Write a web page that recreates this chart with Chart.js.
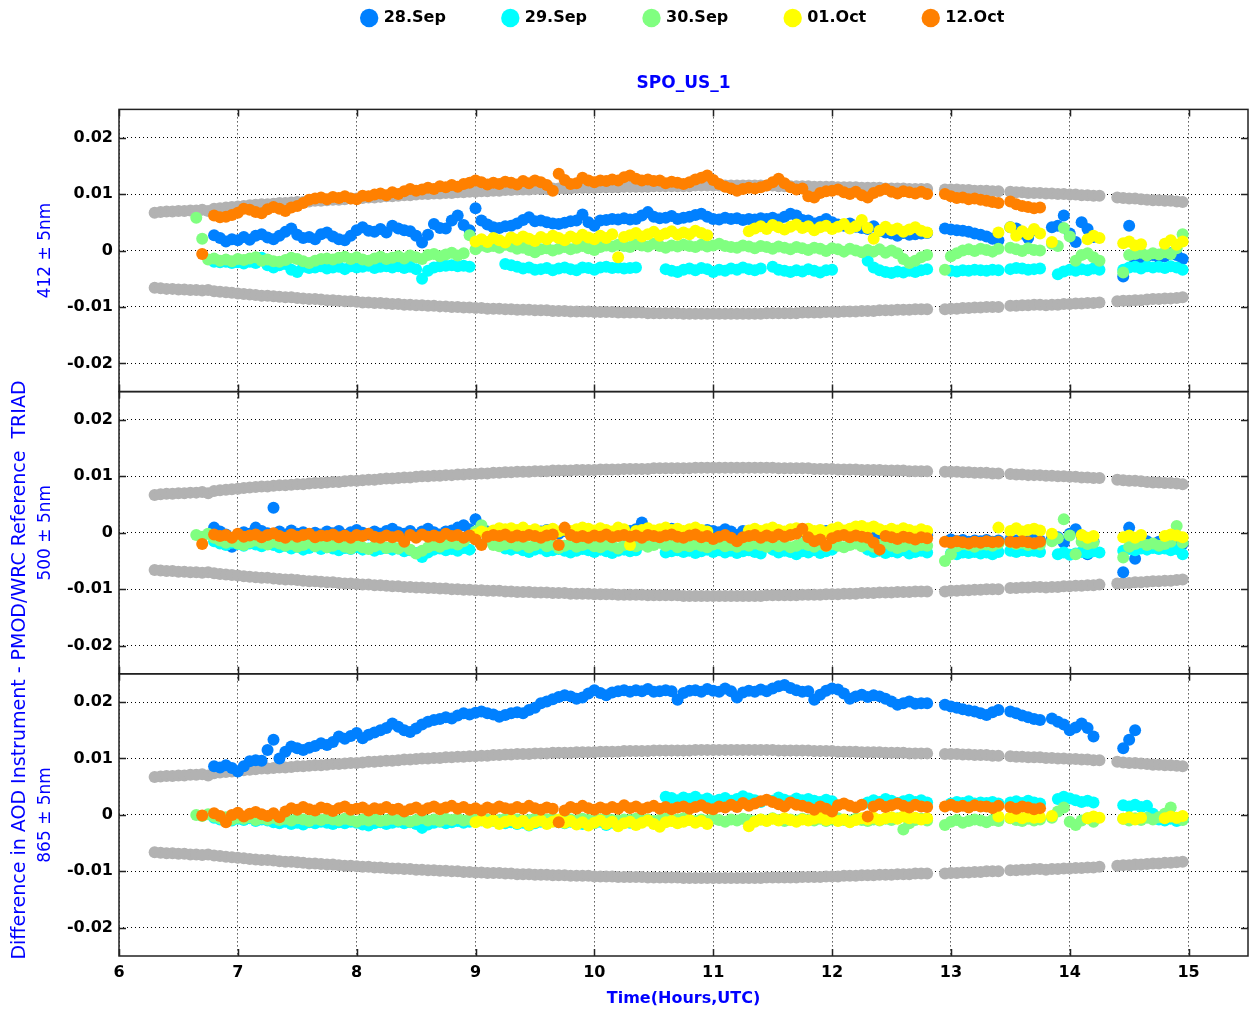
<!DOCTYPE html>
<html lang="en">
<head>
<meta charset="UTF-8" />
<title>SPO_US_1</title>
<script src="https://cdn.jsdelivr.net/npm/chart.js@4"></script>
<style>
  html, body { margin: 0; padding: 0; background: #fff; }
  canvas { display: block; }
</style>
</head>
<body>
<canvas id="aodChart" width="1249" height="1016"></canvas>
<script>
// gaps in the record are null
const _ = null;

// time axis of every series (hours UTC), one row = half an hour
const hours = [
  6.30, 6.35, 6.40, 6.45, 6.50, 6.55, 6.60, 6.65, 6.70, 6.75,
  6.80, 6.85, 6.90, 6.95, 7.00, 7.05, 7.10, 7.15, 7.20, 7.25,
  7.30, 7.35, 7.40, 7.45, 7.50, 7.55, 7.60, 7.65, 7.70, 7.75,
  7.80, 7.85, 7.90, 7.95, 8.00, 8.05, 8.10, 8.15, 8.20, 8.25,
  8.30, 8.35, 8.40, 8.45, 8.50, 8.55, 8.60, 8.65, 8.70, 8.75,
  8.80, 8.85, 8.90, 8.95, 9.00, 9.05, 9.10, 9.15, 9.20, 9.25,
  9.30, 9.35, 9.40, 9.45, 9.50, 9.55, 9.60, 9.65, 9.70, 9.75,
  9.80, 9.85, 9.90, 9.95, 10.00, 10.05, 10.10, 10.15, 10.20, 10.25,
  10.30, 10.35, 10.40, 10.45, 10.50, 10.55, 10.60, 10.65, 10.70, 10.75,
  10.80, 10.85, 10.90, 10.95, 11.00, 11.05, 11.10, 11.15, 11.20, 11.25,
  11.30, 11.35, 11.40, 11.45, 11.50, 11.55, 11.60, 11.65, 11.70, 11.75,
  11.80, 11.85, 11.90, 11.95, 12.00, 12.05, 12.10, 12.15, 12.20, 12.25,
  12.30, 12.35, 12.40, 12.45, 12.50, 12.55, 12.60, 12.65, 12.70, 12.75,
  12.80, 12.85, 12.90, 12.95, 13.00, 13.05, 13.10, 13.15, 13.20, 13.25,
  13.30, 13.35, 13.40, 13.45, 13.50, 13.55, 13.60, 13.65, 13.70, 13.75,
  13.80, 13.85, 13.90, 13.95, 14.00, 14.05, 14.10, 14.15, 14.20, 14.25,
  14.30, 14.35, 14.40, 14.45, 14.50, 14.55, 14.60, 14.65, 14.70, 14.75,
  14.80, 14.85, 14.90, 14.95, 15.00
];

const xTicks = [6, 7, 8, 9, 10, 11, 12, 13, 14, 15];
const yTicks = [-0.02, -0.01, 0, 0.01, 0.02];

const days = ['28.Sep', '29.Sep', '30.Sep', '01.Oct', '12.Oct'];
const panelTitles = ['412 \u00b1 5nm', '500 \u00b1 5nm', '865 \u00b1 5nm'];

// all AOD differences below are in units of 0.001
const limitUpper = [
  6.7, 6.8, 6.9, 6.9, 7.0, 7.0, 7.1, 7.1, 7.2, 7.0,
  7.4, 7.5, 7.6, 7.7, 7.8, 7.9, 8.0, 8.1, 8.2, 8.2,
  8.3, 8.4, 8.4, 8.5, 8.6, 8.6, 8.7, 8.8, 8.8, 8.9,
  9.0, 9.0, 9.1, 9.2, 9.2, 9.3, 9.4, 9.4, 9.5, 9.6,
  9.6, 9.7, 9.8, 9.8, 9.9, 10.0, 10.0, 10.1, 10.1, 10.2,
  10.2, 10.3, 10.3, 10.4, 10.4, 10.5, 10.5, 10.6, 10.6, 10.7,
  10.7, 10.8, 10.8, 10.8, 10.9, 10.9, 10.9, 11.0, 11.0, 11.0,
  11.0, 11.1, 11.1, 11.1, 11.1, 11.2, 11.2, 11.2, 11.2, 11.3,
  11.3, 11.3, 11.3, 11.3, 11.4, 11.4, 11.4, 11.4, 11.4, 11.4,
  11.4, 11.5, 11.5, 11.5, 11.5, 11.5, 11.5, 11.5, 11.5, 11.5,
  11.5, 11.5, 11.5, 11.5, 11.5, 11.4, 11.4, 11.4, 11.4, 11.4,
  11.4, 11.3, 11.3, 11.3, 11.3, 11.2, 11.2, 11.2, 11.2, 11.1,
  11.1, 11.1, 11.1, 11.0, 11.0, 11.0, 11.0, 10.9, 10.9, 10.9,
  10.9, _, _, 10.8, 10.8, 10.8, 10.7, 10.7, 10.6, 10.6,
  10.6, 10.5, 10.5, _, 10.4, 10.3, 10.3, 10.2, 10.2, 10.2,
  10.1, 10.1, 10.0, 10.0, 9.9, 9.9, 9.8, 9.8, 9.7, 9.7,
  _, _, 9.4, 9.3, 9.2, 9.2, 9.1, 9.0, 8.9, 8.9,
  8.8, 8.8, 8.7, 8.6, _
];

const limitLower = [
  -6.6, -6.7, -6.8, -6.8, -6.9, -6.9, -7.0, -7.0, -7.1, -7.0,
  -7.2, -7.3, -7.4, -7.5, -7.6, -7.7, -7.8, -7.9, -8.0, -8.0,
  -8.1, -8.2, -8.3, -8.3, -8.4, -8.5, -8.6, -8.6, -8.7, -8.8,
  -8.8, -8.9, -9.0, -9.0, -9.1, -9.2, -9.2, -9.3, -9.3, -9.4,
  -9.5, -9.5, -9.6, -9.6, -9.7, -9.7, -9.8, -9.8, -9.9, -9.9,
  -10.0, -10.0, -10.1, -10.1, -10.2, -10.2, -10.3, -10.3, -10.3, -10.4,
  -10.4, -10.5, -10.5, -10.5, -10.6, -10.6, -10.6, -10.7, -10.7, -10.7,
  -10.8, -10.8, -10.8, -10.8, -10.9, -10.9, -10.9, -10.9, -11.0, -11.0,
  -11.0, -11.0, -11.0, -11.1, -11.1, -11.1, -11.1, -11.1, -11.1, -11.2,
  -11.2, -11.2, -11.2, -11.2, -11.2, -11.2, -11.2, -11.2, -11.2, -11.2,
  -11.2, -11.2, -11.2, -11.1, -11.1, -11.1, -11.1, -11.1, -11.1, -11.0,
  -11.0, -11.0, -11.0, -10.9, -10.9, -10.9, -10.8, -10.8, -10.8, -10.7,
  -10.7, -10.7, -10.6, -10.6, -10.6, -10.5, -10.5, -10.5, -10.4, -10.4,
  -10.4, _, _, -10.4, -10.3, -10.3, -10.2, -10.2, -10.1, -10.1,
  -10.0, -10.0, -10.0, _, -9.8, -9.8, -9.7, -9.7, -9.6, -9.6,
  -9.7, -9.6, -9.6, -9.5, -9.5, -9.4, -9.4, -9.3, -9.3, -9.2,
  _, _, -9.0, -8.9, -8.9, -8.8, -8.8, -8.7, -8.6, -8.6,
  -8.5, -8.5, -8.4, -8.3, _
];

// ---- 412 nm ----
const sep28_412 = [
  _, _, _, _, _, _, _, _, _, _,
  2.7, 2.2, 1.6, 2.0, 1.8, 2.4, 1.9, 2.6, 2.9, 2.3,
  2.0, 2.6, 3.3, 3.9, 2.8, 2.2, 2.4, 2.0, 2.9, 3.2,
  2.5, 2.0, 1.8, 2.6, 3.6, 4.1, 3.5, 3.3, 3.8, 3.2,
  4.4, 3.9, 3.6, 3.4, 2.6, 1.4, 2.8, 4.7, 4.0, 3.9,
  5.3, 6.2, 4.5, 3.6, 7.5, 5.3, 4.6, 4.1, 4.0, 4.3,
  4.4, 4.8, 5.4, 5.9, 5.2, 5.3, 5.0, 4.8, 4.7, 4.9,
  5.2, 5.3, 6.4, 5.0, 4.4, 5.3, 5.4, 5.6, 5.5, 5.7,
  5.5, 5.6, 6.2, 6.8, 6.0, 5.7, 5.8, 6.1, 5.6, 5.8,
  6.0, 6.3, 6.5, 6.0, 5.6, 5.5, 5.8, 5.6, 5.7, 5.4,
  5.6, 5.5, 5.7, 5.6, 5.8, 5.5, 6.0, 6.5, 6.2, 5.4,
  5.3, 4.8, 5.1, 5.6, 5.0, 4.6, 4.4, 4.8, 4.2, 4.0,
  3.8, 4.3, 3.5, 3.2, 3.0, 2.6, 3.1, 2.8, 2.9, 3.0,
  3.1, _, _, 3.9, 3.7, 3.6, 3.5, 3.3, 3.0, 2.8,
  2.5, 2.1, 1.8, _, 4.1, 3.9, 3.0, 2.2, 3.6, _,
  _, 4.1, 4.4, 6.2, 3.0, 1.5, 5.0, 3.8, 2.4, _,
  _, _, _, -4.6, 4.4, -1.8, -1.5, -1.0, -0.8, -1.2,
  -1.0, -0.5, -0.8, -1.5, _
];
const sep29_412 = [
  _, _, _, _, _, _, _, _, _, _,
  -2.0, -2.1, -2.0, -2.2, -2.1, -2.3, -2.0, -2.2, -1.3, -2.6,
  -3.0, -2.6, -2.4, -3.4, -3.8, -2.9, -3.1, -3.0, -2.8, -3.2,
  -3.0, -2.9, -3.3, -2.8, -3.0, -2.9, -2.7, -3.1, -2.9, -2.8,
  -3.0, -2.8, -3.1, -2.9, -3.3, -5.0, -3.6, -3.0, -2.8, -2.7,
  -2.6, -2.8, -2.7, -2.9, _, _, _, _, _, -2.4,
  -2.6, -2.9, -3.2, -3.0, -3.4, -3.3, -3.1, -3.5, -3.2, -3.0,
  -3.3, -3.5, -3.0, -3.1, -3.4, -3.0, -2.9, -3.1, -3.0, -3.2,
  -3.1, -3.0, _, _, _, _, -3.3, -3.6, -3.8, -3.4,
  -3.2, -3.5, -3.1, -3.3, -3.8, -3.4, -3.6, -3.2, -3.4, -3.0,
  -3.3, -3.5, -3.2, _, -2.9, -3.4, -3.6, -3.8, -3.5, -3.7,
  -3.3, -3.6, -3.9, -3.5, -3.4, _, _, _, _, _,
  -1.8, -3.0, -3.5, -3.8, -4.0, -3.7, -3.9, -3.6, -3.8, -3.5,
  -3.3, _, _, _, -3.6, -3.7, -3.5, -3.6, -3.4, -3.5,
  -3.6, -3.4, -3.5, _, -3.3, -3.1, -3.2, -3.4, -3.3, -3.2,
  _, _, -4.2, -3.7, -3.4, -3.6, -3.3, -3.5, -3.2, -3.4,
  _, _, _, -3.4, -3.0, -2.9, -3.2, -2.8, -3.0, -2.9,
  -3.1, -2.8, -3.0, -3.4, _
];
const sep30_412 = [
  _, _, _, _, _, _, _, 5.8, 2.1, -1.6,
  -1.4, -1.8, -1.6, -1.9, -1.5, -1.7, -1.4, -1.2, -1.8, -1.6,
  -1.9, -2.0, -1.7, -1.3, -1.5, -1.9, -2.2, -1.8, -1.5, -1.4,
  -1.6, -1.3, -1.1, -1.5, -1.2, -1.6, -1.8, -1.4, -1.1, -1.5,
  -1.3, -1.0, -1.4, -0.9, -1.2, -1.5, -0.8, -0.6, -1.0, -0.7,
  -0.4, -0.9, -0.5, 2.7, 0.2, 0.9, 0.6, 0.8, 0.5, 1.0,
  0.7, 0.3, 0.5, 0.1, -0.3, 0.2, 0.4, 0.0, 0.3, 0.6,
  0.2, 0.5, 0.8, 0.4, 0.1, 0.6, 0.9, 0.7, 1.0, 0.8,
  0.6, 1.1, 0.9, 0.7, 1.2, 0.8, 0.5, 0.9, 0.7, 1.0,
  0.8, 0.6, 1.0, 0.7, 0.9, 1.2, 0.8, 0.6, 0.5, 0.9,
  0.7, 0.4, 0.8, 0.6, 0.3, 0.7, 0.5, 0.2, 0.6, 0.4,
  0.1, 0.5, 0.3, -0.1, 0.4, 0.2, -0.2, 0.3, 0.0, -0.3,
  0.1, -0.2, 0.2, -0.4, 0.0, -0.5, -1.5, -2.2, -1.8, -1.2,
  -0.8, _, _, -3.4, -1.0, -0.5, 0.0, 0.2, -0.1, 0.3,
  0.1, -0.2, 0.3, _, 0.5, 0.2, -0.1, 0.4, 0.1, 0.0,
  _, 1.2, 0.8, 4.0, 2.5, -1.8, -0.8, -0.5, -1.2, -1.8,
  _, _, _, -3.9, -0.8, -0.6, -0.4, -0.9, -0.5, -0.7,
  -0.3, -0.6, 0.4, 2.9, _
];
const oct01_412 = [
  _, _, _, _, _, _, _, _, _, _,
  _, _, _, _, _, _, _, _, _, _,
  _, _, _, _, _, _, _, _, _, _,
  _, _, _, _, _, _, _, _, _, _,
  _, _, _, _, _, _, _, _, _, _,
  _, _, _, _, 1.6, 2.0, 1.5, 2.2, 1.8, 1.4,
  2.3, 1.9, 2.5, 2.1, 1.7, 2.4, 2.0, 2.6, 2.2, 1.8,
  2.5, 2.1, 2.8, 2.3, 2.0, 2.6, 2.2, 2.9, -1.2, 2.4,
  2.7, 3.1, 2.5, 2.9, 3.3, 2.6, 3.0, 3.4, 2.8, 3.2,
  2.9, 3.5, 3.1, 2.7, _, _, _, _, _, _,
  3.4, 3.9, 4.3, 3.8, 4.5, 4.1, 3.7, 4.2, 4.6, 4.0,
  4.3, 3.6, 4.1, 4.4, 3.8, 4.2, 4.7, 3.9, 4.3, 5.4,
  4.0, 2.1, 3.5, 4.2, 3.6, 3.9, 3.3, 3.7, 4.1, 3.5,
  3.2, _, _, _, _, _, _, _, _, _,
  _, _, 3.2, _, 4.1, 2.6, 3.4, 2.9, 3.8, 3.0,
  _, 1.5, _, _, _, _, _, 2.0, 2.6, 2.2,
  _, _, _, 1.3, 1.6, 0.9, 1.1, _, _, _,
  1.2, 1.8, 1.0, 1.6, _
];
const oct12_412 = [
  _, _, _, _, _, _, _, _, -0.6, _,
  6.2, 5.9, 6.0, 6.3, 6.7, 7.4, 7.2, 6.8, 6.6, 7.3,
  7.7, 7.4, 7.0, 7.6, 7.9, 8.4, 9.0, 9.2, 9.4, 9.1,
  9.5, 9.3, 9.6, 9.2, 9.1, 9.7, 9.6, 9.9, 10.1, 9.8,
  10.3, 10.0, 10.5, 10.9, 10.6, 10.8, 11.1, 10.9, 11.4, 11.2,
  11.6, 11.3, 11.8, 12.0, 12.4, 12.1, 11.7, 12.0, 11.8, 12.2,
  12.0, 11.7, 12.3, 11.9, 12.4, 12.1, 11.6, 10.6, 13.6, 12.5,
  11.8, 11.9, 12.9, 12.4, 12.1, 12.4, 12.3, 12.6, 12.4, 13.0,
  13.3, 12.7, 12.4, 12.6, 12.3, 12.4, 11.9, 12.2, 12.0, 11.8,
  12.1, 12.6, 12.9, 13.3, 12.5, 11.8, 11.3, 11.0, 10.6, 10.9,
  11.1, 11.0, 11.2, 11.5, 12.1, 12.7, 11.9, 11.2, 10.8, 11.0,
  9.6, 9.4, 10.2, 10.5, 10.6, 10.8, 10.3, 10.0, 10.4, 9.8,
  9.4, 10.2, 10.6, 10.9, 10.4, 10.1, 10.5, 10.3, 10.1, 10.4,
  10.0, _, _, 10.0, 9.6, 9.3, 9.4, 9.1, 9.2, 9.0,
  8.8, 8.6, 8.4, _, 8.7, 8.2, 7.9, 7.7, 7.5, 7.6,
  _, _, _, _, _, _, _, _, _, _,
  _, _, _, _, _, _, _, _, _, _,
  _, _, _, _, _
];

// ---- 500 nm ----
const sep28_500 = [
  _, _, _, _, _, _, _, _, _, _,
  0.9, 0.2, -0.3, -2.5, -0.4, 0.1, -0.2, 0.9, 0.3, -0.1,
  4.4, 0.2, -0.3, 0.4, -0.2, 0.1, -0.5, 0.0, -0.3, 0.2,
  -0.1, 0.3, -0.4, 0.1, 0.5, 0.0, -0.3, 0.2, -0.2, 0.3,
  0.7, 0.1, -0.2, 0.3, -0.4, 0.2, 0.7, 0.1, -0.3, 0.2,
  0.4, 0.9, 1.3, 0.6, 2.4, 1.0, 0.2, -0.1, 0.3, 0.0,
  0.3, -0.2, 0.4, 0.1, -0.3, 0.2, 0.5, 0.0, -0.2, 0.3,
  0.1, 0.4, -0.1, 0.3, 0.0, 0.5, 0.2, -0.2, 0.4, 0.1,
  0.3, 0.6, 1.8, 0.4, 0.1, 0.5, 0.2, 0.7, 0.3, 0.0,
  0.4, 0.6, 0.2, 0.5, 0.3, 0.1, 0.6, 0.2, -0.4, 0.3,
  0.2, 0.5, 0.1, 0.4, 0.6, 0.2, -0.1, 0.3, 0.0, 0.2,
  0.4, 0.1, -0.2, 0.3, 0.0, 0.2, -0.3, 0.1, -0.1, 0.0,
  -0.2, 0.1, -0.4, -0.1, 0.2, -0.3, -0.5, -0.2, -0.6, -0.4,
  -0.5, _, _, _, -1.2, -1.5, -1.3, -1.6, -1.4, -1.5,
  -1.3, -1.6, -1.4, _, -1.2, -1.4, -1.3, -1.5, -1.2, -1.4,
  _, -1.0, -0.8, -1.8, -0.2, 0.6, -0.5, -3.8, -1.5, _,
  _, _, _, -7.0, 0.9, -4.6, -1.8, -1.5, -2.0, -1.6,
  -1.9, -1.4, -1.7, -2.0, _
];
const sep29_500 = [
  _, _, _, _, _, _, _, _, _, _,
  -1.5, -1.9, -2.2, -1.8, -2.0, -2.3, -1.9, -2.1, -2.4, -2.0,
  -2.2, -2.6, -2.3, -2.8, -2.5, -3.0, -2.7, -2.4, -2.9, -2.6,
  -2.8, -3.1, -2.7, -2.9, -2.6, -3.0, -2.8, -3.2, -2.9, -2.7,
  -3.0, -2.8, -3.3, -3.1, -3.6, -4.3, -3.5, -3.0, -2.8, -3.1,
  -2.9, -3.2, -2.7, -3.0, _, _, _, _, _, -2.8,
  -3.0, -2.7, -3.1, -3.4, -3.0, -2.8, -3.3, -3.1, -2.9, -3.2,
  -3.5, -3.2, -2.9, -3.1, -3.4, -3.0, -3.3, -3.6, -3.2, -3.0,
  -3.3, -3.1, _, _, _, _, -3.5, -3.3, -3.1, -3.4,
  -3.2, -3.6, -3.3, -3.0, -3.4, -3.1, -3.5, -3.2, -3.6, -3.3,
  -3.1, -3.4, -3.7, _, -3.0, -3.5, -3.2, -3.4, -3.8, -3.3,
  -3.5, -3.1, -3.6, -3.3, -3.0, _, _, _, _, _,
  -3.0, -3.4, -3.2, -3.6, -3.3, -3.5, -3.1, -3.7, -3.4, -3.2,
  -3.5, _, _, _, -3.7, -3.8, -3.5, -3.6, -3.4, -3.7,
  -3.5, -3.8, -3.4, _, -3.2, -3.4, -3.1, -3.3, -3.2, -3.4,
  _, _, -3.8, -3.5, -3.9, -3.7, -3.4, -3.6, -3.3, -3.5,
  _, _, _, -3.2, -2.9, -3.1, -2.8, -3.0, -2.7, -2.9,
  -2.8, -3.1, -2.9, -3.8, _
];
const sep30_500 = [
  _, _, _, _, _, _, _, -0.4, -0.7, -0.2,
  -0.9, -1.4, -1.8, -1.5, -1.9, -2.2, -1.7, -1.4, -1.8, -2.1,
  -1.6, -1.9, -2.3, -2.0, -2.5, -2.2, -1.8, -2.4, -2.1, -2.6,
  -2.3, -2.0, -2.5, -2.8, -2.2, -2.6, -2.9, -2.4, -2.1, -2.7,
  -2.5, -2.8, -2.3, -3.0, -3.7, -3.2, -2.6, -2.2, -2.5, -2.0,
  -1.8, -2.1, -1.5, -0.8, 0.2, 1.3, -1.2, -2.2, -2.4, -2.1,
  -1.9, -2.3, -2.0, -2.6, -2.2, -1.8, -2.4, -2.1, -2.7, -2.3,
  -2.0, -2.5, -2.2, -1.9, -2.4, -2.6, -2.1, -2.3, -2.8, -2.2,
  -1.9, -2.4, -2.1, -2.5, -2.2, -1.8, -2.3, -2.0, -2.6, -2.2,
  -2.4, -2.0, -2.3, -2.6, -2.1, -1.9, -2.4, -2.2, -2.5, -2.1,
  -2.3, -1.9, -2.2, -2.5, -2.0, -2.4, -2.1, -2.6, -2.3, -1.9,
  -2.2, -2.5, -2.1, -2.4, -2.0, -2.3, -2.6, -2.2, -1.9, -2.4,
  -2.1, -2.5, -2.2, -1.8, -2.3, -2.7, -2.4, -2.0, -2.5, -2.2,
  -2.3, _, _, -5.0, -3.8, -2.4, -2.0, -2.2, -2.5, -2.1,
  -2.1, -2.3, -1.9, _, -1.7, -2.0, -1.8, -2.2, -1.9, -2.1,
  _, -1.5, -1.0, 2.4, -0.5, -3.8, -1.6, -2.0, -1.8, _,
  _, _, _, -4.4, -2.5, -2.0, -1.7, -2.2, -1.9, -2.3,
  -2.0, -1.6, 1.2, -1.8, _
];
const oct01_500 = [
  _, _, _, _, _, _, _, _, _, _,
  _, _, _, _, _, _, _, _, _, _,
  _, _, _, _, _, _, _, _, _, _,
  _, _, _, _, _, _, _, _, _, _,
  _, _, _, _, _, _, _, _, _, _,
  _, _, _, _, -0.3, 0.2, -0.1, 0.4, 0.8, 0.6,
  0.8, 0.5, 0.9, 0.3, 0.6, 0.1, 0.4, 0.7, 0.2, 0.5,
  0.3, 0.6, 0.9, 0.7, 0.4, 0.8, 0.5, 0.2, 0.9, 0.6,
  -2.2, 0.3, 0.5, 0.8, 0.4, 0.6, 0.9, 0.5, 0.7, 0.3,
  0.6, 0.9, 0.5, 0.2, _, _, _, _, _, _,
  0.4, 0.7, 0.3, 0.6, 0.9, 0.5, 0.2, 0.6, 0.8, 0.4,
  0.7, 0.3, 0.5, 0.1, 0.6, 0.9, 0.4, 0.7, 1.1, 1.2,
  0.8, 1.1, 0.6, 0.3, 0.7, 0.4, 0.8, 0.5, 0.2, 0.6,
  0.3, _, _, _, _, _, _, _, _, _,
  _, _, 0.9, _, 0.3, 0.8, 0.2, 0.5, 0.7, 0.4,
  _, -0.2, _, _, _, _, -0.4, -0.9, -0.6, _,
  _, _, _, -0.8, -0.5, -0.9, -0.4, _, _, _,
  -0.6, -0.3, -0.5, -0.8, _
];
const oct12_500 = [
  _, _, _, _, _, _, _, _, -2.0, _,
  -0.3, -0.6, -0.4, -0.9, -0.2, -0.7, -0.5, -0.3, -0.8, -0.4,
  -0.1, -0.6, -0.9, -0.3, -0.7, -0.4, -0.2, -0.8, -0.5, -0.6,
  -0.3, -0.8, -0.5, -0.9, -0.4, -0.6, -0.2, -0.7, -0.9, -0.5,
  -0.8, -0.6, -1.6, -0.4, -0.9, -0.3, -0.7, -0.5, -0.8, -0.2,
  -0.6, -0.4, -0.9, -0.5, -1.2, -2.2, -0.7, -0.4, -0.6, -0.3,
  -0.8, -0.5, -0.7, -0.4, -0.6, -0.9, -0.5, -0.3, -2.2, 0.9,
  -0.4, -0.8, -0.6, -0.9, -0.5, -0.7, -0.3, -0.8, -0.6, -0.4,
  -0.7, -0.5, -0.9, -0.4, -0.6, -0.8, -0.5, -0.3, -0.7, -0.9,
  -0.5, -0.3, -0.8, -0.6, -1.1, -0.7, -0.4, -0.9, -1.5, -0.8,
  -0.6, -0.4, -0.9, -0.5, -0.8, -0.3, -0.7, -0.4, -0.2, 0.7,
  -0.8, -1.5, -1.2, -2.3, -1.0, -0.6, -0.4, -0.8, -0.5, -0.7,
  -0.9, -1.8, -3.0, -0.6, -0.8, -1.1, -0.7, -0.9, -1.2, -0.8,
  -1.0, _, _, -1.6, -1.8, -1.5, -1.7, -1.9, -1.6, -1.8,
  -1.5, -1.7, -1.6, _, -1.6, -1.8, -1.5, -1.7, -1.9, -1.6,
  _, _, _, _, _, _, _, _, _, _,
  _, _, _, _, _, _, _, _, _, _,
  _, _, _, _, _
];

// ---- 865 nm ----
const sep28_865 = [
  _, _, _, _, _, _, _, _, _, _,
  8.6, 8.4, 8.8, 8.3, 7.7, 8.6, 9.5, 9.7, 9.6, 11.5,
  13.3, 10.0, 11.2, 12.1, 11.8, 11.5, 11.9, 12.2, 12.7, 12.4,
  12.9, 13.9, 13.5, 14.0, 14.5, 13.6, 14.2, 14.6, 15.0, 15.4,
  16.2, 15.6, 15.0, 14.7, 15.3, 16.0, 16.5, 16.8, 17.0, 17.3,
  17.1, 17.6, 18.0, 17.8, 18.1, 18.3, 18.0, 17.8, 17.4, 17.7,
  18.0, 18.2, 18.0, 18.6, 19.0, 19.8, 20.1, 20.5, 20.9, 21.2,
  21.0, 20.6, 20.8, 21.5, 22.1, 21.6, 21.2, 21.7, 21.9, 22.1,
  21.8, 22.1, 21.9, 22.3, 21.8, 21.9, 22.1, 21.9, 20.4, 21.6,
  22.0, 22.1, 21.8, 22.3, 22.0, 21.8, 22.4, 21.9, 20.8, 21.7,
  22.0, 21.8, 22.2, 21.9, 22.4, 22.8, 23.0, 22.5, 22.1, 21.8,
  21.9, 20.4, 21.3, 22.0, 22.4, 22.2, 21.5, 20.6, 21.0, 21.3,
  20.9, 21.2, 21.0, 20.6, 20.1, 19.5, 19.8, 20.1, 19.7, 19.8,
  19.8, _, _, 19.5, 19.2, 19.0, 18.7, 18.5, 18.3, 18.0,
  17.7, 18.2, 18.6, _, 18.3, 18.0, 17.6, 17.3, 17.0, 16.8,
  _, 17.1, 16.5, 16.0, 15.0, 15.5, 16.2, 15.4, 13.9, _,
  _, _, _, 11.8, 13.3, 15.0, _, _, _, _,
  _, _, _, _, _
];
const sep29_865 = [
  _, _, _, _, _, _, _, _, _, _,
  -0.5, -0.8, -0.6, -1.0, -0.7, -0.9, -0.6, -1.1, -0.8, -1.0,
  -1.3, -1.5, -1.2, -1.6, -1.4, -1.7, -1.3, -1.5, -1.2, -1.4,
  -1.6, -1.3, -1.5, -1.2, -1.4, -1.7, -1.9, -1.5, -1.3, -1.6,
  -1.4, -1.2, -1.5, -1.3, -1.6, -2.3, -1.7, -1.4, -1.2, -1.5,
  -1.3, -1.1, -1.4, -1.2, _, _, _, _, _, -1.5,
  -1.3, -1.6, -1.4, -1.9, -1.5, -1.2, -1.4, -1.1, -1.3, -1.5,
  -1.2, -1.4, -1.6, -1.3, -1.5, -1.2, -1.8, -1.4, -1.3, -1.1,
  -1.4, -1.2, _, _, _, _, 3.2, 3.0, 2.6, 3.1,
  2.8, 3.2, 2.6, 2.9, 2.4, 2.7, 3.0, 2.5, 2.8, 3.3,
  2.9, 2.6, 2.3, _, 2.5, 3.1, 2.7, 2.4, 2.9, 2.6,
  2.8, 2.5, 2.3, 2.7, 2.4, _, _, _, _, _,
  2.2, 2.6, 2.3, 2.8, 2.5, 2.1, 2.4, 2.7, 2.3, 2.6,
  2.2, _, _, _, 2.0, 2.3, 2.1, 2.4, 2.0, 2.2,
  2.1, 2.3, 2.0, _, 2.2, 2.4, 2.1, 2.5, 2.2, 2.0,
  _, _, 2.8, 3.2, 2.9, 2.6, 2.3, 2.5, 2.2, _,
  _, _, _, 1.7, 1.5, 1.8, 1.4, 1.6, 0.2, -0.8,
  -1.0, -0.7, -1.1, -0.8, _
];
const sep30_865 = [
  _, _, _, _, _, _, _, 0.0, -0.2, 0.1,
  -0.3, -0.6, -0.4, -0.8, -0.5, -0.7, -0.4, -0.9, -0.6, -0.8,
  -0.5, -0.9, -0.7, -1.0, -0.6, -0.8, -1.1, -0.7, -0.9, -0.6,
  -0.8, -1.0, -0.7, -0.9, -1.2, -0.8, -1.0, -0.7, -1.1, -0.9,
  -0.7, -1.0, -0.8, -1.2, -0.9, -0.6, -1.0, -0.8, -1.1, -0.7,
  -0.9, -0.6, -1.0, -0.8, -0.7, -1.0, -0.8, -1.1, -0.9, -0.7,
  -1.0, -0.8, -1.1, -0.9, -0.7, -1.0, -0.8, -0.6, -0.9, -1.1,
  -0.8, -1.0, -0.7, -0.9, -1.1, -0.8, -0.6, -0.9, -1.0, -0.8,
  -0.9, -0.7, -1.0, -0.8, -1.1, -0.9, -0.7, -1.0, -0.8, -0.6,
  -0.9, -1.1, -0.8, -1.0, -0.7, -0.9, -1.2, -0.8, -1.0, -0.7,
  -0.9, -1.1, -0.8, -1.0, -0.6, -0.9, -1.1, -0.8, -1.0, -0.7,
  -0.9, -1.0, -0.7, -1.1, -0.8, -0.6, -0.9, -1.0, -0.7, -0.9,
  -1.1, -0.8, -1.0, -0.7, -0.9, -0.6, -2.6, -1.5, -0.9, -0.7,
  -1.0, _, _, -1.8, -1.2, -0.9, -1.4, -1.1, -0.8, -1.0,
  -1.3, -0.9, -1.1, _, -0.6, -0.9, -1.1, -0.7, -1.0, -0.8,
  _, -0.5, 0.6, 1.3, -1.2, -1.8, -1.0, -0.6, -1.2, _,
  _, _, _, -0.7, -1.0, -0.6, -0.9, -0.5, -0.8, -0.4,
  0.2, 1.3, -0.6, -0.9, _
];
const oct01_865 = [
  _, _, _, _, _, _, _, _, _, _,
  _, _, _, _, _, _, _, _, _, _,
  _, _, _, _, _, _, _, _, _, _,
  _, _, _, _, _, _, _, _, _, _,
  _, _, _, _, _, _, _, _, _, _,
  _, _, _, _, -1.3, -0.9, -1.4, -1.0, -1.6, -1.2,
  -0.9, -1.5, -1.1, -1.8, -1.3, -1.0, -1.6, -1.2, -0.8, -1.4,
  -1.1, -1.7, -1.3, -1.9, -1.4, -1.0, -1.6, -1.2, -2.0, -1.5,
  -1.2, -1.8, -1.4, -1.0, -1.6, -2.1, -1.3, -1.1, -1.5, -1.2,
  -0.9, -1.4, -1.1, -1.6, _, _, _, _, _, _,
  -2.0, -1.2, -0.8, -1.1, -0.7, -1.0, -0.6, -0.9, -1.2, -0.8,
  -1.0, -0.7, -0.5, -0.9, -0.6, -1.1, -0.8, -1.3, -0.9, -0.6,
  -0.8, -0.5, -0.9, -0.6, -0.4, -0.7, -0.3, -0.6, -0.5, -0.8,
  -0.6, _, _, _, _, _, _, _, _, _,
  _, _, -0.3, _, -0.5, -0.2, -0.6, -0.3, -0.5, -0.4,
  _, -0.2, _, _, _, _, _, -0.6, -0.3, -0.5,
  _, _, _, -0.7, -0.4, -0.8, -0.5, _, _, _,
  -0.6, -0.3, -0.5, -0.2, _
];
const oct12_865 = [
  _, _, _, _, _, _, _, _, -0.1, _,
  0.3, -0.2, -1.3, 0.0, 0.4, -0.3, 0.2, 0.5, 0.1, -0.2,
  0.3, -0.4, 0.6, 1.2, 0.9, 1.4, 1.0, 0.8, 1.3, 1.1,
  0.7, 1.2, 1.5, 0.9, 1.1, 1.3, 0.8, 1.2, 1.0, 1.4,
  0.9, 1.1, 0.6, 1.0, 1.3, 0.8, 1.2, 1.5, 1.0, 1.3,
  1.6, 1.1, 1.4, 0.9, 1.2, 0.8, 1.3, 1.0, 1.5, 1.2,
  1.0, 1.4, 1.1, 1.6, 1.2, 0.9, 1.3, 1.1, -1.3, 0.8,
  1.4, 1.1, 1.6, 1.2, 0.9, 1.3, 1.0, 1.4, 1.1, 1.7,
  1.2, 1.5, 1.0, 1.3, 1.6, 1.1, 1.4, 1.0, 1.3, 1.5,
  1.1, 1.4, 1.7, 1.2, 1.0, 1.5, 1.3, 1.8, 1.4, 2.1,
  1.6, 2.0, 2.4, 2.7, 2.3, 1.9, 1.5, 2.2, 1.8, 1.6,
  1.3, 0.9, 1.5, 1.1, 0.6, 1.7, 2.0, 1.6, 1.3, 1.8,
  -0.3, 1.5, 1.9, 1.4, 1.7, 2.0, 1.6, 1.3, 1.8, 1.5,
  1.4, _, _, 1.5, 1.8, 1.4, 1.6, 1.3, 1.7, 1.5,
  1.5, 1.2, 1.6, _, 1.4, 1.1, 1.5, 1.3, 1.0, 1.2,
  _, _, _, _, _, _, _, _, _, _,
  _, _, _, _, _, _, _, _, _, _,
  _, _, _, _, _
];

const panels = [
  { id: 'p412', title: panelTitles[0], series: [sep28_412, sep29_412, sep30_412, oct01_412, oct12_412] },
  { id: 'p500', title: panelTitles[1], series: [sep28_500, sep29_500, sep30_500, oct01_500, oct12_500] },
  { id: 'p865', title: panelTitles[2], series: [sep28_865, sep29_865, sep30_865, oct01_865, oct12_865] }
];

const dayColors = ['#0080ff', '#00ffff', '#80ff80', '#ffff00', '#ff8000'];
const limitColor = '#b2b2b2';
const FONT = '"DejaVu Sans", "Liberation Sans", sans-serif';
const MARKER = 6;

function toPoints(values) {
  if (values.length !== hours.length) console.error('length mismatch', values.length);
  const pts = [];
  values.forEach((v, i) => {
    if (v !== null) pts.push({ x: hours[i], y: v / 1000 });
  });
  return pts;
}

const datasets = [];
panels.forEach((p) => {
  p.series.forEach((vals, k) => {
    datasets.push({
      label: days[k],
      data: toPoints(vals),
      yAxisID: p.id,
      backgroundColor: dayColors[k],
      borderColor: dayColors[k],
      pointRadius: MARKER,
      pointBorderWidth: 0,
      order: 5 - k
    });
  });
  [limitUpper, limitLower].forEach((vals) => {
    datasets.push({
      label: 'limit',
      data: toPoints(vals),
      yAxisID: p.id,
      backgroundColor: limitColor,
      borderColor: limitColor,
      pointRadius: MARKER,
      pointBorderWidth: 0,
      order: 9
    });
  });
});

const tickFont = { family: FONT, size: 16, weight: 'bold' };

function panelScale(p, weight) {
  return {
    type: 'linear',
    position: 'left',
    stack: 'panels',
    stackWeight: 1,
    weight: weight,
    min: -0.025,
    max: 0.025,
    afterBuildTicks: (s) => { s.ticks = yTicks.map((v) => ({ value: v })); },
    afterFit: (s) => { s.width = 119; },
    ticks: {
      font: tickFont,
      color: '#000',
      padding: 6,
      callback: (v) => (v === 0 ? '0' : v.toFixed(2))
    },
    grid: { color: '#000', lineWidth: 1, drawTicks: false },
    border: { display: false, dash: [1, 3] },
    title: {
      display: true,
      text: p.title,
      color: '#0000ff',
      font: { family: FONT, size: 17 },
      padding: { top: 35, bottom: 0 }
    }
  };
}

// panel frames, inward tick marks and the shared y label
const framePlugin = {
  id: 'panelFrames',
  afterDatasetsDraw(chart) {
    const { ctx, chartArea: a, scales } = chart;
    const xs = scales.x;
    ctx.save();
    ctx.strokeStyle = '#222';
    ctx.lineWidth = 1.5;
    panels.forEach((p) => {
      const s = scales[p.id];
      ctx.strokeRect(a.left, s.top, a.right - a.left, s.bottom - s.top);
      ctx.beginPath();
      yTicks.forEach((v) => {
        const y = Math.round(s.getPixelForValue(v)) + 0.5;
        ctx.moveTo(a.left, y); ctx.lineTo(a.left + 7, y);
        ctx.moveTo(a.right, y); ctx.lineTo(a.right - 7, y);
      });
      xTicks.forEach((v) => {
        const x = Math.round(xs.getPixelForValue(v)) + 0.5;
        ctx.moveTo(x, s.top); ctx.lineTo(x, s.top + 7);
        ctx.moveTo(x, s.bottom); ctx.lineTo(x, s.bottom - 7);
      });
      ctx.stroke();
    });
    ctx.translate(20, 670);
    ctx.rotate(-Math.PI / 2);
    ctx.fillStyle = '#0000ff';
    ctx.font = '19px ' + FONT;
    ctx.textAlign = 'center';
    ctx.textBaseline = 'middle';
    ctx.fillText('Difference in AOD Instrument - PMOD/WRC Reference  TRIAD', 0, 0);
    ctx.restore();
  }
};

new Chart(document.getElementById('aodChart'), {
  type: 'scatter',
  data: { datasets },
  options: {
    responsive: false,
    animation: false,
    events: [],
    layout: { autoPadding: false, padding: { top: -48, right: 1, bottom: 0, left: 0 } },
    plugins: {
      legend: {
        position: 'top',
        fullSize: false,
        weight: 3000,
        labels: {
          usePointStyle: true,
          pointStyle: 'circle',
          boxWidth: 13,
          boxHeight: 13,
          padding: 58,
          color: '#000',
          font: { family: FONT, size: 16, weight: 'bold' },
          filter: (item) => item.datasetIndex < 5,
          sort: (a, b) => a.datasetIndex - b.datasetIndex
        }
      },
      title: {
        display: true,
        text: 'SPO_US_1',
        color: '#0000ff',
        fullSize: false,
        weight: 500,
        font: { family: FONT, size: 17, weight: 'bold' },
        padding: { top: 37, bottom: 16 }
      },
      tooltip: { enabled: false }
    },
    scales: {
      x: {
        type: 'linear',
        position: 'bottom',
        min: 6,
        max: 15.5,
        afterBuildTicks: (s) => { s.ticks = xTicks.map((v) => ({ value: v })); },
        afterFit: (s) => { s.height = 60; s.paddingLeft = 0; s.paddingRight = 0; },
        ticks: { font: tickFont, color: '#000', padding: 7, maxRotation: 0, autoSkip: false },
        grid: { color: '#000', lineWidth: 1, drawTicks: false },
        border: { display: false, dash: [1, 3] },
        title: {
          display: true,
          text: 'Time(Hours,UTC)',
          color: '#0000ff',
          font: { family: FONT, size: 16, weight: 'bold' },
          padding: { top: 0, bottom: 8 }
        }
      },
      p412: panelScale(panels[0], 3),
      p500: panelScale(panels[1], 2),
      p865: panelScale(panels[2], 1)
    }
  },
  plugins: [framePlugin]
});
</script>
</body>
</html>
